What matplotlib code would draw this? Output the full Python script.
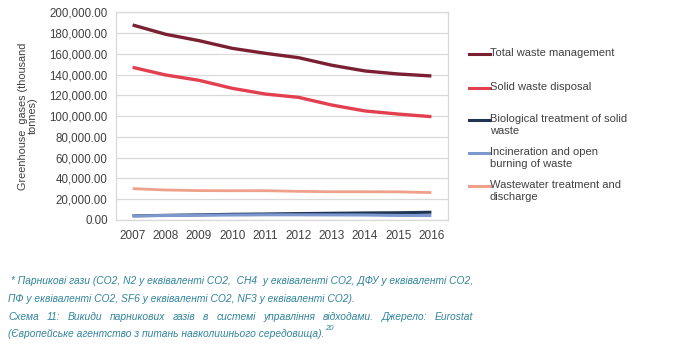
import matplotlib
matplotlib.use("Agg")
import matplotlib.pyplot as plt
from matplotlib.lines import Line2D
from matplotlib.ticker import FuncFormatter

years = [2007, 2008, 2009, 2010, 2011, 2012, 2013, 2014, 2015, 2016]
total = [187800, 178800, 172700, 165300, 160500, 156300, 149000, 143500, 140600, 138700]
solid = [147000, 139600, 134500, 126800, 121300, 118100, 110700, 105000, 102000, 99500]
bio = [4000, 4500, 5000, 5500, 5800, 6200, 6500, 6800, 7000, 7500]
incin = [4000, 4300, 4600, 4800, 5000, 5000, 4900, 4800, 4400, 4300]
waste = [30200, 28900, 28300, 28200, 28200, 27600, 27200, 27200, 27100, 26400]

names = ["Total waste management", "Solid waste disposal",
         "Biological treatment of solid\nwaste", "Incineration and open\nburning of waste",
         "Wastewater treatment and\ndischarge"]
colors = ["#7b1f33", "#e2404f", "#1f3553", "#7d97cf", "#eea08a"]
widths = [2.4, 2.4, 2.2, 2.2, 2.0]

plt.rcParams['font.family'] = ['Liberation Sans', 'DejaVu Sans']

fig = plt.figure(figsize=(6.83, 3.55), dpi=100)
ax = fig.add_axes([116/683, 1-220/355, 332/683, (220-12.3)/355])

series = [total, solid, bio, incin, waste]
for vals, c, w in zip(series, colors, widths):
    ax.plot(years, vals, color=c, lw=w, solid_capstyle='butt')

ax.set_xlim(2006.5, 2016.5)
ax.set_ylim(0, 200000)
ax.set_xticks(years)
ax.set_yticks(range(0, 200001, 20000))
ax.yaxis.set_major_formatter(FuncFormatter(lambda v, p: f"{v:,.2f}"))
ax.tick_params(length=0, labelsize=8.3, colors='#404040', pad=6)
ax.tick_params(axis='x', labelsize=8.5, pad=7)
ax.grid(axis='y', color='#d9d9d9', lw=0.9)
ax.set_axisbelow(True)
for s in ax.spines.values():
    s.set_color('#d9d9d9')
    s.set_linewidth(0.9)
ax.set_ylabel("Greenhouse  gases (thousand\ntonnes)", fontsize=7.8, color='#404040',
              linespacing=0.95)
ax.yaxis.set_label_coords(-0.235, 0.5)

# legend
leg_y = [54, 88, 120, 153, 186]
for name, c, y in zip(names, colors, leg_y):
    fig.add_artist(Line2D([469/683, 490/683], [1-y/355, 1-y/355], color=c, lw=2.2))
    fig.text(490/683, 1-(y-6)/355, name, fontsize=8, color='#404040', va='top',
             linespacing=1.25)

cap_color = '#31849b'
cap_font = dict(fontsize=7.4, color=cap_color, style='italic')
fig.text(8/683, 1-281/355, " * Парникові гази (CO2, N2 у еквіваленті CO2,  CH4  у еквіваленті CO2, ДФУ у еквіваленті CO2,",
         va='center', **cap_font)
fig.text(8/683, 1-299/355, "ПФ у еквіваленті CO2, SF6 у еквіваленті CO2, NF3 у еквіваленті CO2).",
         va='center', **cap_font)

# justified line
line3 = "Схема 11: Викиди парникових газів в системі управління відходами. Джерело: Eurostat".split()
fig.canvas.draw()
r = fig.canvas.get_renderer()
ws = []
for w in line3:
    t = fig.text(0, 0, w, **cap_font)
    ws.append(t.get_window_extent(r).width)
    t.remove()
x0, x1 = 8, 473
gap = (x1 - x0 - sum(ws)) / (len(line3) - 1)
x = x0
for w, wd in zip(line3, ws):
    fig.text(x/683, 1-317/355, w, va='center', **cap_font)
    x += wd + gap

t4 = fig.text(8/683, 1-334/355, "(Європейське агентство з питань навколишнього середовища).",
              va='center', **cap_font)
bb = t4.get_window_extent(r)
sup = dict(cap_font)
sup['fontsize'] = 5.5
fig.text((bb.x1 + 1)/683, 1-328/355, "20", va='center', **sup)

fig.savefig("out.png", dpi=100)
